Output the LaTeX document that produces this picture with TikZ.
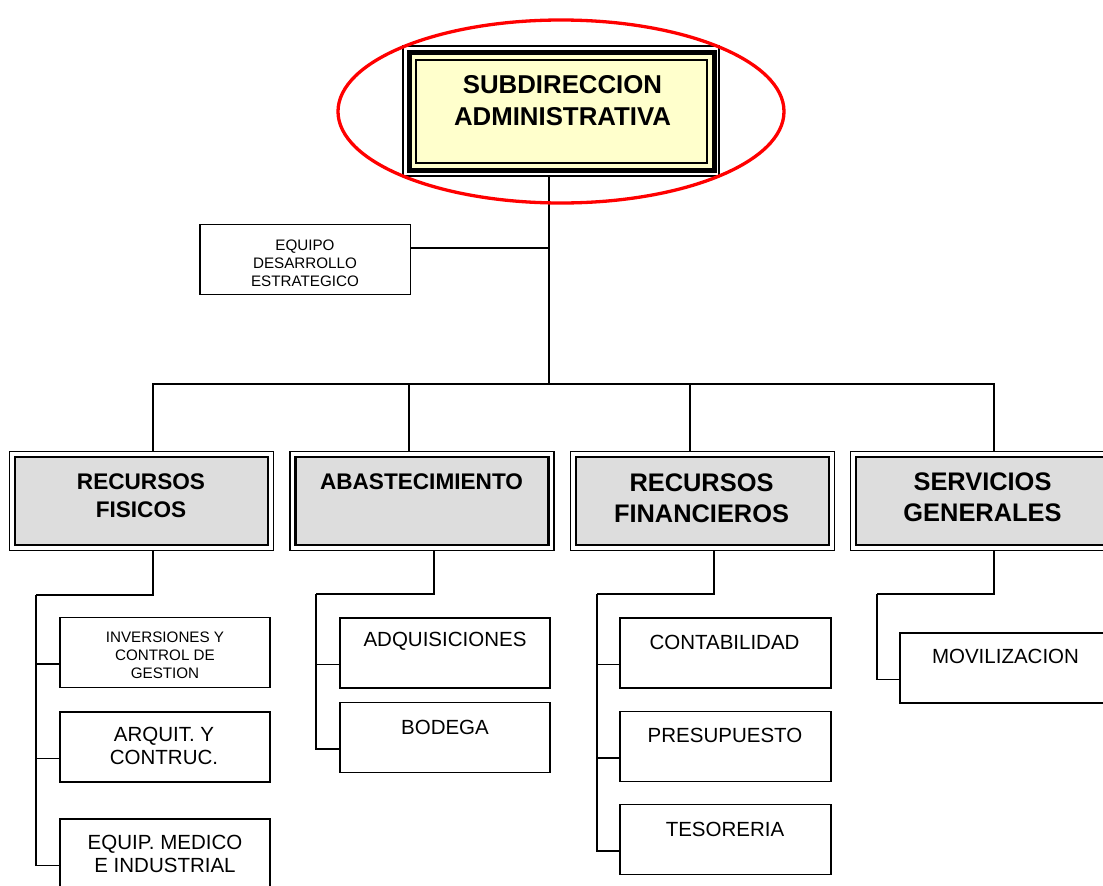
\documentclass[tikz,border=0pt]{standalone}
\usepackage{fontspec}
\setmainfont{Liberation Sans}
\usetikzlibrary{positioning}

\definecolor{notepad}{HTML}{FFFFCC}
\definecolor{shade}{HTML}{DDDDDD}

\begin{document}
\begin{tikzpicture}[
  x=1pt, y=-1pt,
  line width=1.6pt,
  topbox/.style={draw, line width=5pt, fill=notepad, minimum width=305.5pt, minimum height=117.5pt, inner sep=0pt, outer sep=0pt},
  areabox/.style={draw, line width=2.5pt, fill=shade, minimum width=253pt, minimum height=88pt, inner sep=0pt, outer sep=0pt},
  unitbox/.style={draw, line width=1.6pt, fill=white, minimum width=210.5pt, minimum height=70pt, inner sep=0pt, outer sep=0pt},
  frame/.style={draw, line width=1.1pt},
  toptext/.style={font=\fontsize{25.8}{32}\selectfont\bfseries, align=center, inner sep=0pt},
  areatext/.style={font=\fontsize{22.6}{27.5}\selectfont\bfseries, align=center, inner sep=0pt},
  bigarea/.style={font=\fontsize{25.4}{31}\selectfont\bfseries, align=center, inner sep=0pt},
  unittext/.style={font=\fontsize{20.5}{23}\selectfont, align=center, inner sep=0pt},
  smalltext/.style={font=\fontsize{15.2}{18}\selectfont, align=center, inner sep=0pt},
]
  \useasboundingbox (0,0) rectangle (1103,886);
  \clip (0,0) rectangle (1103,886);

  % top of the chart
  \node[topbox] (subdir) at (561.75,111.25) {};
  \draw[frame] ([shift={(-6,-6.5)}]subdir.north west) rectangle ([shift={(4.5,6)}]subdir.south east);
  \draw[line width=2pt] ([shift={(7,7)}]subdir.north west) rectangle ([shift={(-7.5,-7)}]subdir.south east);
  \node[toptext] (subdir-t) at (562.5,101) {SUBDIRECCION\\ADMINISTRATIVA};

  \coordinate (hub) at (549,384);
  \draw ([yshift=-6pt]subdir.south -| hub) -- (hub);

  % staff unit
  \node[unitbox] (eds) at (305.25,259.5) {};
  \node[smalltext] (eds-t) at (305,263.5) {EQUIPO\\DESARROLLO\\ESTRATEGICO};
  \draw ([yshift=11.5pt]eds.east) coordinate (eds-j) -- (eds-j -| hub);

  % areas
  \node[areabox] (fis) at (141.5,501) {};
  \node[areabox] (aba) at (422,501) {};
  \node[areabox] (fin) at (702.5,501) {};
  \node[areabox] (srv) at (982.5,501) {};
  \draw[frame] ([shift={(-5.5,-5.5)}]fis.north west) rectangle ([shift={(5.5,5.5)}]fis.south east);
  \draw[frame] ([shift={(-5.5,-5.5)}]aba.north west) rectangle ([shift={(5.5,5.5)}]aba.south east);
  \draw[frame] ([shift={(-5.5,-5.5)}]fin.north west) rectangle ([shift={(5.5,5.5)}]fin.south east);
  \draw[frame] ([shift={(-5.5,-5.5)}]srv.north west) rectangle ([shift={(5.5,5.5)}]srv.south east);
  \node[areatext] (fis-t) at (141,495.5) {RECURSOS\\FISICOS};
  \node[areatext] (aba-t) at (421.5,481.5) {ABASTECIMIENTO};
  \node[bigarea] (fin-t) at (701.5,498) {RECURSOS\\FINANCIEROS};
  \node[bigarea] (srv-t) at (982.5,497.5) {SERVICIOS\\GENERALES};

  \draw (hub) -| ([xshift=11.5pt, yshift=5.5pt]fis.north);
  \draw (hub) -| ([xshift=-13pt, yshift=5.5pt]aba.north);
  \draw (hub) -| ([xshift=-12.5pt, yshift=5.5pt]fin.north);
  \draw (hub) -| ([xshift=11.5pt, yshift=5.5pt]srv.north);

  % units under recursos fisicos
  \node[unitbox] (inv) at (165,652.5) {};
  \node[unitbox] (arq) at (165,747) {};
  \node[unitbox] (eqm) at (165,854) {};
  \node[smalltext] (inv-t) at (165,655.5) {INVERSIONES Y\\CONTROL DE\\GESTION};
  \node[unittext] (arq-t) at (164,746) {ARQUIT. Y\\CONTRUC.};
  \node[unittext] (eqm-t) at (165,853.5) {EQUIP. MEDICO\\E INDUSTRIAL};
  \coordinate (fis-r) at (36,595);
  \draw ([xshift=11.5pt, yshift=-5.5pt]fis.south) |- (fis-r);
  \draw ([yshift=-11.5pt]inv.west) -| (fis-r);
  \draw ([yshift=-11.5pt]arq.west) -| (fis-r);
  \draw ([yshift=-11.5pt]eqm.west) -| (fis-r);

  % units under abastecimiento
  \node[unitbox] (adq) at (445,653) {};
  \node[unitbox] (bod) at (445,737.5) {};
  \node[unittext] (adq-t) at (445,641) {ADQUISICIONES};
  \node[unittext] (bod-t) at (445,727) {BODEGA};
  \coordinate (aba-r) at (316,594);
  \draw ([xshift=12pt, yshift=-5.5pt]aba.south) |- (aba-r);
  \draw ([yshift=-11.5pt]adq.west) -| (aba-r);
  \draw ([yshift=-11.5pt]bod.west) -| (aba-r);

  % units under recursos financieros
  \node[unitbox] (con) at (725.5,653) {};
  \node[unitbox] (pre) at (725.5,746.5) {};
  \node[unitbox] (tes) at (725.5,839.5) {};
  \node[unittext] (con-t) at (724.5,642) {CONTABILIDAD};
  \node[unittext] (pre-t) at (725,735) {PRESUPUESTO};
  \node[unittext] (tes-t) at (725,829) {TESORERIA};
  \coordinate (fin-r) at (597,594);
  \draw ([xshift=11.5pt, yshift=-5.5pt]fin.south) |- (fin-r);
  \draw ([yshift=-11.5pt]con.west) -| (fin-r);
  \draw ([yshift=-11.5pt]pre.west) -| (fin-r);
  \draw ([yshift=-11.5pt]tes.west) -| (fin-r);

  % units under servicios generales
  \node[unitbox] (mov) at (1005.5,668) {};
  \node[unittext] (mov-t) at (1005.5,656) {MOVILIZACION};
  \coordinate (srv-r) at (877,594);
  \draw ([xshift=11.5pt, yshift=-5.5pt]srv.south) |- (srv-r);
  \draw ([yshift=-11.5pt]mov.west) -| (srv-r);

  % highlight
  \draw[red, line width=3.3pt] (561,111.5) ellipse [x radius=223pt, y radius=91.5pt];
\end{tikzpicture}
\end{document}
